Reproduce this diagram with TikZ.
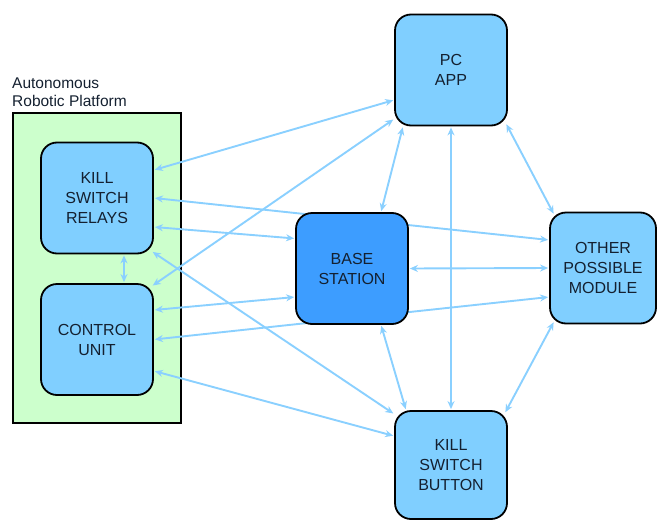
\documentclass[tikz,border=0pt]{standalone}
\usepackage{fontspec}
\setmainfont{Liberation Sans}
\usetikzlibrary{arrows.meta}
\definecolor{kotak}{HTML}{80CFFF}
\definecolor{pusat}{HTML}{3D9DFF}
\definecolor{panah}{HTML}{8AD0FF}
\definecolor{hijau}{HTML}{CCFFCC}
\definecolor{teks}{HTML}{142030}
\pgfdeclarelayer{belakang}
\pgfdeclarelayer{tengah}
\pgfsetlayers{belakang,tengah,main}
\begin{document}
\begin{tikzpicture}[x=1pt, y=-1pt,
  modul/.style={draw=black, line width=1.8pt, rounded corners=16pt, fill=kotak, text=teks,
    align=center, font=\fontsize{16}{20}\selectfont, minimum width=112pt, minimum height=111pt, inner sep=0pt},
  link/.style={panah, line width=1.9pt, {Stealth[length=8pt,width=7pt]}-{Stealth[length=8pt,width=7pt]},
    shorten <=1pt, shorten >=1pt}]
  \useasboundingbox (0,0) rectangle (658,522);
  % platform robot
  \begin{pgfonlayer}{belakang}
    \node[draw=black, line width=1.8pt, fill=hijau, minimum width=168pt, minimum height=310pt] (platform) at (97,268) {};
  \end{pgfonlayer}
  \node[anchor=south west, align=left, inner sep=0pt, text=teks, font=\fontsize{15.5}{18}\selectfont]
    (judul) at (12,107) {Autonomous\\Robotic Platform};
  % simpul
  \node[modul] (ksr) at (97,198) {KILL\\SWITCH\\RELAYS};
  \node[modul] (cu) at (97,339.5) {CONTROL\\UNIT};
  \node[modul] (pc) at (451,70) {PC\\APP};
  \node[modul, fill=pusat] (base) at (352,268.5) {BASE\\STATION};
  \node[modul, minimum width=106pt] (other) at (603,268) {OTHER\\POSSIBLE\\MODULE};
  \node[modul, minimum height=108pt] (ksb) at (451,465) {KILL\\SWITCH\\BUTTON};
  \begin{pgfonlayer}{tengah}
  % panah dari platform
  \draw[link] ([yshift=28pt]ksr.east) -- ([yshift=-30pt]pc.west);
  \draw[link] ([xshift=-2pt,yshift=-3pt]cu.north east) -- ([yshift=-49pt]pc.west);
  \draw[link] (ksr.east) -- ([yshift=28pt]other.west);
  \draw[link] ([yshift=-29pt]ksr.east) -- ([yshift=30pt]base.west);
  \draw[link] ([xshift=-2pt,yshift=3pt]ksr.south east) -- ([yshift=51pt]ksb.west);
  \draw[link] ([yshift=29.5pt]cu.east) -- ([yshift=-28.5pt]base.west);
  \draw[link] (cu.east) -- ([yshift=-29pt]other.west);
  \draw[link] ([yshift=-31.5pt]cu.east) -- ([yshift=29pt]ksb.west);
  \draw[link] ([xshift=27pt]ksr.south) -- ([xshift=27pt]cu.north);
  % panah antar modul
  \draw[link] ([xshift=-48pt]pc.south) -- ([xshift=29pt]base.north);
  \draw[link] (pc.south) -- (ksb.north);
  \draw[link] ([xshift=-2pt,yshift=3pt]pc.south east) -- ([xshift=5pt,yshift=-3pt]other.north west);
  \draw[link] (base.east) -- (other.west);
  \draw[link] ([xshift=29pt]base.south) -- ([xshift=-45pt]ksb.north);
  \draw[link] ([xshift=5pt,yshift=3pt]other.south west) -- ([xshift=-3pt,yshift=-3pt]ksb.north east);
  \end{pgfonlayer}
\end{tikzpicture}
\end{document}
